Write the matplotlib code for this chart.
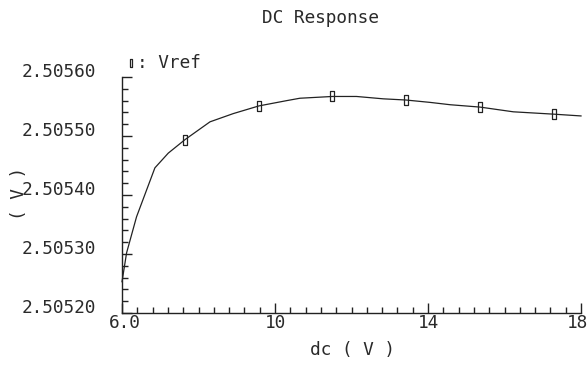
import matplotlib
matplotlib.use("Agg")
import matplotlib.pyplot as plt
import matplotlib.transforms as mtransforms
from matplotlib.ticker import FixedLocator, MultipleLocator

# ---- data ----
dc = [6.0, 6.12, 6.38, 6.86, 7.21, 7.65, 8.30, 8.91, 9.58, 10.31, 10.65,
      11.5, 12.13, 12.83, 13.42, 14.05, 14.58, 15.36, 16.23, 17.29, 18.0]
vref = [2.505253, 2.505302, 2.505363, 2.505446, 2.505471, 2.505494, 2.505524,
        2.505538, 2.505551, 2.505560, 2.505564, 2.505567, 2.505567, 2.505563,
        2.505561, 2.505557, 2.505553, 2.505549, 2.505541, 2.505537, 2.505534]
marker_idx = [5, 8, 11, 14, 17, 19]
x_ticks = [6, 10, 14, 18]
x_tick_labels = ["6.0", "10", "14", "18"]
y_ticks = [2.50520, 2.50530, 2.50540, 2.50550, 2.50560]
y_tick_labels = ["2.50520", "2.50530", "2.50540", "2.50550", "2.50560"]

FONT = "DejaVu Sans Mono"
FS = 12.8
TXT = "#2a2a2a"

fig = plt.figure(figsize=(5.88, 3.65), dpi=100)
ax = fig.add_axes([122/588, 1-313/365, (581-122)/588, (313-77)/365])

rect = [(-0.35, -1), (0.35, -1), (0.35, 1), (-0.35, 1), (-0.35, -1)]
ax.plot(dc, vref, color="#222222", lw=0.9, marker=rect, markevery=marker_idx,
        markersize=7, markerfacecolor="none", markeredgecolor="#222222",
        markeredgewidth=0.9, clip_on=False)

ax.set_xlim(6, 18)
ax.set_ylim(2.50520, 2.50560)

ax.xaxis.set_major_locator(FixedLocator(x_ticks))
ax.xaxis.set_minor_locator(MultipleLocator(0.4))
ax.set_xticklabels(x_tick_labels)
ax.yaxis.set_major_locator(FixedLocator(y_ticks))
ax.yaxis.set_minor_locator(MultipleLocator(0.00002))
ax.set_yticklabels(y_tick_labels)

for s in ["top", "right"]:
    ax.spines[s].set_visible(False)
for s in ["left", "bottom"]:
    ax.spines[s].set_linewidth(1.0)
    ax.spines[s].set_color("#222222")

ax.tick_params(axis="both", which="major", direction="in", length=7, width=1.0,
               color="#222222", labelsize=FS, labelcolor=TXT)
ax.tick_params(axis="both", which="minor", direction="in", length=4, width=1.0,
               color="#222222")
ax.tick_params(axis="y", which="major", pad=19)
ax.tick_params(axis="x", which="major", pad=1)

for lab in ax.get_yticklabels() + ax.get_xticklabels():
    lab.set_fontfamily(FONT)

off = mtransforms.ScaledTranslation(0, 0.07, fig.dpi_scale_trans)
for lab in ax.get_yticklabels():
    lab.set_transform(lab.get_transform() + off)
xl = ax.get_xticklabels()
xl[0].set_transform(xl[0].get_transform() + mtransforms.ScaledTranslation(0.03, 0, fig.dpi_scale_trans))
xl[-1].set_transform(xl[-1].get_transform() + mtransforms.ScaledTranslation(-0.04, 0, fig.dpi_scale_trans))

fig.text(320/588, 1-18/365, "DC Response", ha="center", va="center",
         fontsize=FS, family=FONT, color=TXT)
fig.text(352/588, 1-350/365, "dc ( V )", ha="center", va="center",
         fontsize=FS, family=FONT, color=TXT)
fig.text(19/588, 1-193/365, "( V )", ha="center", va="center", rotation=90,
         fontsize=FS, family=FONT, color=TXT)

# legend
fig.lines.append(plt.Line2D([131/588], [1-63/365], transform=fig.transFigure,
                            marker=rect, markersize=6, markerfacecolor="none",
                            markeredgecolor="#222222", markeredgewidth=0.9,
                            linestyle="none"))
fig.text(137/588, 1-63/365, ": Vref", ha="left", va="center",
         fontsize=FS, family=FONT, color=TXT)

fig.savefig("out.png", dpi=100, facecolor="white")
